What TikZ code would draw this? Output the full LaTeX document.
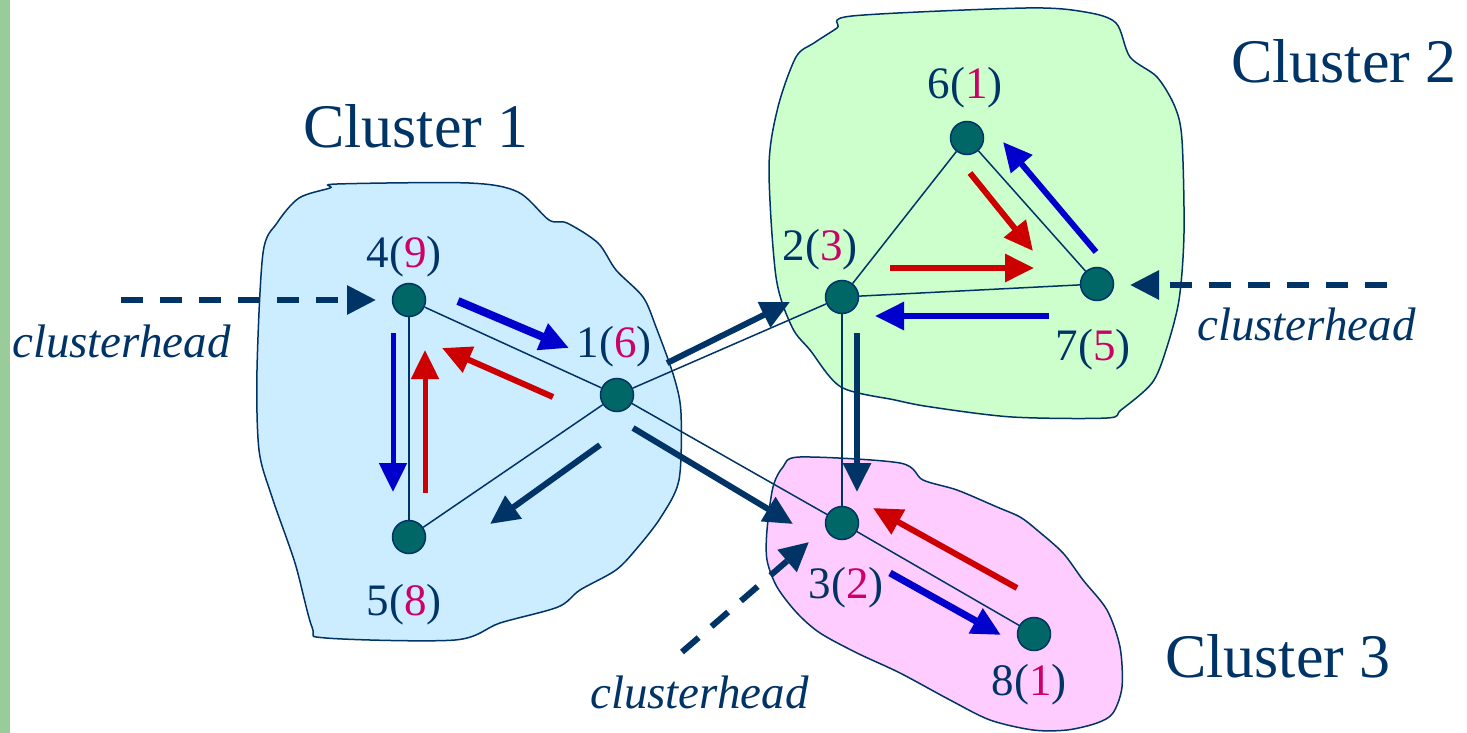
\documentclass[tikz,border=0pt]{standalone}
\usepackage{fontspec}
\setmainfont{Liberation Serif}
\usetikzlibrary{arrows.meta}
\definecolor{navy}{HTML}{003366}
\definecolor{mag}{HTML}{CC0066}
\definecolor{tealn}{HTML}{006666}
\definecolor{cla}{HTML}{CCECFF}
\definecolor{clb}{HTML}{CCFFCC}
\definecolor{clc}{HTML}{FFCCFF}
\definecolor{bluea}{HTML}{0000CC}
\definecolor{reda}{HTML}{CC0000}
\definecolor{barg}{HTML}{99CC99}
\begin{document}
\begin{tikzpicture}[x=1pt,y=-1pt,
  blob/.style={draw=navy,line width=1.5pt},
  vtx/.style={circle,fill=tealn,draw=navy,line width=1.5pt,minimum size=33pt,inner sep=0pt},
  link/.style={draw=navy,line width=1.5pt},
  fat/.style={line width=#1,-{Triangle[length=29pt,width=27pt]}},
  dasharr/.style={draw=navy,line width=6pt,dash pattern=on 22pt off 17pt,-{Triangle[length=29pt,width=28pt]}},
  lbl/.style={anchor=base,inner sep=0pt,text=navy,font=\fontsize{45}{50}\selectfont},
  chead/.style={anchor=base west,inner sep=0pt,text=navy,font=\fontsize{47}{52}\selectfont\itshape},
  ctitle/.style={anchor=base west,inner sep=0pt,text=navy,font=\fontsize{62}{70}\selectfont}
]
\fill[white] (0,0) rectangle (1467,733);
\useasboundingbox (0,0) rectangle (1467,733);
\fill[barg] (0,0) rectangle (10,733);

% cluster blobs
\draw[blob,fill=cla] plot[smooth cycle,tension=0.5] coordinates {
 (337,184) (469,183) (518,192) (549,220) (567,223) (598,243) (616,270) (643,297)
 (656,327) (674,377) (681,413) (679,480) (661,517) (638,547) (616,570) (580,590)
 (558,607) (500,623) (455,640) (326,638) (312,627) (295,563) (272,497) (259,450)
 (257,370) (263,253) (277,223) (299,198) (330,188)};
\draw[blob,fill=clb] plot[smooth cycle,tension=0.5] coordinates {
 (852,16) (1026,8) (1085,12) (1116,23) (1130,57) (1157,77) (1175,107) (1182,140)
 (1184,233) (1179,300) (1166,350) (1152,383) (1121,410) (1107,418) (1012,417)
 (931,407) (895,400) (841,387) (810,350) (792,327) (776,277) (769,167) (778,107)
 (796,57) (814,43) (837,28)};
\draw[blob,fill=clc] plot[smooth cycle,tension=0.5] coordinates {
 (800,457) (900,463) (923,480) (957,490) (997,507) (1020,517) (1037,530) (1063,553)
 (1083,580) (1107,610) (1120,647) (1122,687) (1113,713) (1097,723) (1067,730)
 (1033,730) (990,720) (950,700) (900,673) (857,653) (820,633) (797,613) (777,587)
 (767,560) (767,530) (773,487) (783,467)};

% nodes
\node[vtx] (n4) at (409,300) {};
\node[vtx] (n1) at (617,395) {};
\node[vtx] (n5) at (409,537) {};
\node[vtx] (n2) at (842,297) {};
\node[vtx] (n6) at (967,138) {};
\node[vtx] (n7) at (1097,284) {};
\node[vtx] (n3) at (842,523) {};
\node[vtx] (n8) at (1034,634) {};

% links
\draw[link] (n4) -- (n1);
\draw[link] (n4) -- (n5);
\draw[link] (n1) -- (n5);
\draw[link] (n1) -- (n2);
\draw[link] (n1) -- (n3);
\draw[link] (n2) -- (n6);
\draw[link] (n2) -- (n7);
\draw[link] (n6) -- (n7);
\draw[link] (n2) -- (n3);
\draw[link] (n3) -- (n8);

% arrow end points
\coordinate (a1s) at (458,301);  \coordinate (a1e) at (569,348);
\coordinate (a2s) at (553,397);  \coordinate (a2e) at (442,348);
\coordinate (a3s) at (393,333);  \coordinate (a3e) at (393,492);
\coordinate (a4s) at (425,493);  \coordinate (a4e) at (425,350);
\coordinate (a5s) at (600,445);  \coordinate (a5e) at (490,524);
\coordinate (b1s) at (667,363);  \coordinate (b1e) at (790,302);
\coordinate (b2s) at (633,428);  \coordinate (b2e) at (793,524);
\coordinate (b3s) at (857,333);  \coordinate (b3e) at (857,492);
\coordinate (c1s) at (970,173);  \coordinate (c1e) at (1033,251);
\coordinate (c2s) at (1096,252); \coordinate (c2e) at (1003,142);
\coordinate (c3s) at (890,268);  \coordinate (c3e) at (1034,268);
\coordinate (c4s) at (1049,316); \coordinate (c4e) at (875,316);
\coordinate (d1s) at (1017,588); \coordinate (d1e) at (873,508);
\coordinate (d2s) at (890,573);  \coordinate (d2e) at (1001,635);
\coordinate (h1s) at (121,300);  \coordinate (h1e) at (376,300);
\coordinate (h2s) at (1387,285); \coordinate (h2e) at (1130,285);
\coordinate (h3s) at (682,652);  \coordinate (h3e) at (809,542);

\draw[fat=8pt,bluea] (a1s) -- (a1e);
\draw[fat=6pt,reda] (a2s) -- (a2e);
\draw[fat=5pt,bluea] (a3s) -- (a3e);
\draw[fat=5pt,reda] (a4s) -- (a4e);
\draw[fat=6pt,navy] (a5s) -- (a5e);
\draw[fat=6pt,navy] (b1s) -- (b1e);
\draw[fat=6pt,navy] (b2s) -- (b2e);
\draw[fat=6pt,navy] (b3s) -- (b3e);
\draw[fat=6pt,reda] (c1s) -- (c1e);
\draw[fat=6pt,bluea] (c2s) -- (c2e);
\draw[fat=6pt,reda] (c3s) -- (c3e);
\draw[fat=6pt,bluea] (c4s) -- (c4e);
\draw[fat=6pt,reda] (d1s) -- (d1e);
\draw[fat=7pt,bluea] (d2s) -- (d2e);
\draw[dasharr] (h1s) -- (h1e);
\draw[dasharr] (h2s) -- (h2e);
\draw[dasharr] (h3s) -- (h3e);

% labels
\node[lbl] (l4) at (404,267) {4(\textcolor{mag}{9})};
\node[lbl] (l1) at (614,357) {1(\textcolor{mag}{6})};
\node[lbl] (l5) at (404,615) {5(\textcolor{mag}{8})};
\node[lbl] (l2) at (820,260) {2(\textcolor{mag}{3})};
\node[lbl] (l6) at (965,99) {6(\textcolor{mag}{1})};
\node[lbl] (l7) at (1093,360) {7(\textcolor{mag}{5})};
\node[lbl] (l3) at (846,598) {3(\textcolor{mag}{2})};
\node[lbl] (l8) at (1029,695) {8(\textcolor{mag}{1})};

\node[chead] (ch1) at (12,357) {clusterhead};
\node[chead] (ch2) at (1197,340) {clusterhead};
\node[chead] (ch3) at (590,708) {clusterhead};

\node[ctitle] (t1) at (303,147) {Cluster 1};
\node[ctitle] (t2) at (1231,83) {Cluster 2};
\node[ctitle] (t3) at (1165,677) {Cluster 3};
\end{tikzpicture}
\end{document}
